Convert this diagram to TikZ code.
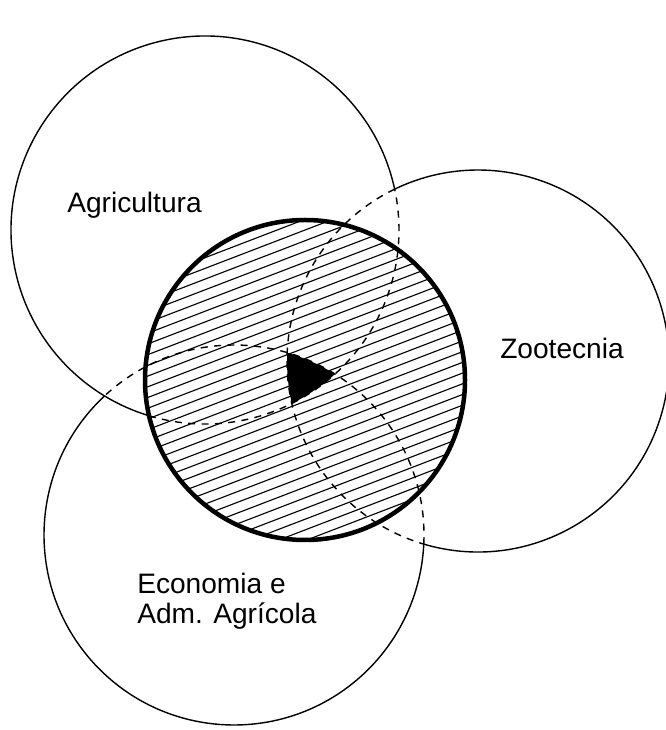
\documentclass[tikz,border=0pt]{standalone}
\usepackage{fontspec}
\newfontfamily\labelfont{Liberation Sans}
\usetikzlibrary{positioning}

\begin{document}
\begin{tikzpicture}[x=0.25mm,y=0.25mm,
  ring/.style={line width=1pt},
  hidden/.style={line width=1pt,dash pattern=on 5pt off 4.5pt},
  hatch/.style={line width=0.8pt},
  core/.style={line width=3.2pt},
  fieldlabel/.style={font=\labelfont\fontsize{20}{21.3}\selectfont,inner sep=0pt}]
\useasboundingbox (0,0) rectangle (665,730);
% centres of the circles
\coordinate (Oa) at (205,500);   % Agricultura, r=194
\coordinate (Oe) at (234,195);   % Economia, r=190
\coordinate (Oz) at (478,369);   % Zootecnia, r=191
\coordinate (Oc) at (305,350);   % common core, r=160
% meeting points of the three outer circles
\coordinate (A) at (287.2,377.3);
% hatched core
\begin{scope}
  \clip (Oc) circle[radius=160];
  \begin{scope}[shift={(Oc)},rotate=21]
    \foreach \k in {-17,...,17}
      \draw[hatch] (-175,\k*10) -- (175,\k*10);
  \end{scope}
\end{scope}
% Agricultura
\draw[ring]   (Oa) ++(12.17:194) arc[start angle=12.17,end angle=253.2,radius=194];
\draw[hidden] (Oa) ++(253.2:194) arc[start angle=253.2,end angle=372.17,radius=194];
% Economia e Adm. Agricola
\draw[ring]   (Oe) ++(132.95:190) arc[start angle=132.95,end angle=357.26,radius=190];
\draw[hidden] (Oe) ++(-2.74:190) arc[start angle=-2.74,end angle=132.95,radius=190];
% Zootecnia
\draw[ring]   (Oz) ++(253.5:191) arc[start angle=253.5,end angle=475.88,radius=191];
\draw[hidden] (Oz) ++(115.88:191) arc[start angle=115.88,end angle=253.5,radius=191];
% part common to all three
\fill (A) arc[start angle=73.73,end angle=57.9,radius=190]
          arc[start angle=312.04,end angle=296.58,radius=194]
          arc[start angle=192.86,end angle=177.5,radius=191] -- cycle;
\draw[core] (Oc) circle[radius=160];
% labels
\node[fieldlabel,anchor=base west] (agri) at (67,517) {Agricultura};
\node[fieldlabel,anchor=base west] (zoo) at (500,371) {Zootecnia};
\node[fieldlabel,anchor=north west,align=left] (econ) at (137,157) {Economia e\\Adm. Agrícola};
\end{tikzpicture}
\end{document}
